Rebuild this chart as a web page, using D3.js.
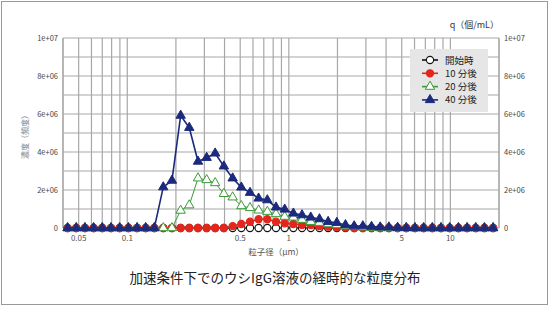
<!DOCTYPE html>
<html>
<head>
<meta charset="utf-8">
<script src="https://cdn.jsdelivr.net/npm/d3@7"></script>
<style>
  body { margin: 0; background: #fff; }
  svg { display: block; font-family: "Noto Sans CJK JP", "Noto Sans", sans-serif; }
</style>
</head>
<body>
<svg width="550" height="310"></svg>
<script>
// particle size bins (µm)
const sizes = [0.0427, 0.0483, 0.0547, 0.0619, 0.0700, 0.0793, 0.0897, 0.1016, 0.115, 0.130,
  0.147, 0.167, 0.189, 0.214, 0.242, 0.274, 0.310, 0.350, 0.396, 0.449,
  0.508, 0.575, 0.650, 0.736, 0.833, 0.943, 1.067, 1.207, 1.367, 1.547,
  1.751, 1.982, 2.242, 2.538, 2.872, 3.251, 3.680, 4.164, 4.713, 5.333,
  6.037, 6.832, 7.731, 8.751, 9.904, 11.21, 12.69, 14.36, 16.25, 18.39];

const start = [0, 0, 0, 0, 0, 0, 0, 0, 0, 0,
  0, 0, 0, 0, 0, 0, 0, 0, 0, 0,
  0, 0, 0, 0, 0, 0, 0, 0, 0, 0,
  0, 0, 0, 0, 0, 0, 0, 0, 0, 0,
  0, 0, 0, 0, 0, 0, 0, 0, 0, 0];

const min10 = [0, 0, 0, 0, 0, 0, 0, 0, 0, 0,
  0, 0, 0, 0, 0, 0, 0, 0, 0, 0.1e6,
  0.21e6, 0.33e6, 0.46e6, 0.46e6, 0.33e6, 0.25e6, 0.21e6, 0.16e6, 0.15e6, 0.1e6,
  0.07e6, 0.04e6, 0.02e6, 0, 0, 0, 0, 0, 0, 0,
  0, 0, 0, 0, 0, 0, 0, 0, 0, 0];

const min20 = [0, 0, 0, 0, 0, 0, 0, 0, 0, 0,
  0, 0, 0, 0.92e6, 1.2e6, 2.62e6, 2.53e6, 2.37e6, 1.8e6, 1.62e6,
  1.16e6, 1.06e6, 0.93e6, 0.86e6, 0.74e6, 0.6e6, 0.56e6, 0.44e6, 0.33e6, 0.28e6,
  0.21e6, 0.16e6, 0.1e6, 0.06e6, 0.04e6, 0.02e6, 0, 0, 0, 0,
  0, 0, 0, 0, 0, 0, 0, 0, 0, 0];

const min40 = [0, 0, 0, 0, 0, 0, 0, 0, 0, 0,
  0, 2.15e6, 2.5e6, 5.92e6, 5.28e6, 3.5e6, 3.7e6, 3.93e6, 3.25e6, 2.62e6,
  2.14e6, 1.86e6, 1.56e6, 1.47e6, 1.09e6, 0.98e6, 0.77e6, 0.68e6, 0.56e6, 0.47e6,
  0.33e6, 0.28e6, 0.16e6, 0.1e6, 0.1e6, 0.07e6, 0.04e6, 0.04e6, 0.02e6, 0.01e6,
  0, 0, 0, 0, 0, 0, 0, 0, 0, 0];

const seriesNames = ["開始時", "10 分後", "20 分後", "40 分後"];
const xTickLabels = [0.05, 0.1, 0.5, 1, 5, 10];
const yTickLabels = [0, 2e6, 4e6, 6e6, 8e6, 1e7];

const series = [
  { name: seriesNames[0], values: start, color: "#111", fill: "#fff", shape: "circle", lw: 1 },
  { name: seriesNames[1], values: min10, color: "#e3261c", fill: "#e3261c", shape: "circle", lw: 1.5 },
  { name: seriesNames[2], values: min20, color: "#3a9a36", fill: "#fff", shape: "triangle", lw: 1 },
  { name: seriesNames[3], values: min40, color: "#1b2a7c", fill: "#1b2a7c", shape: "triangle", lw: 1.6 }
];

const svg = d3.select("svg");
const pLeft = 63, pRight = 499, pTop = 38, pBottom = 228;

const x = d3.scaleLog().domain([0.04, 20]).range([pLeft, pRight]);
const y = d3.scaleLinear().domain([0, 1e7]).range([pBottom, pTop]);

// outer frame
svg.append("rect")
  .attr("x", 1.5).attr("y", 1.5).attr("width", 546).attr("height", 303)
  .attr("fill", "none").attr("stroke", "#999").attr("stroke-width", 1);

// grid
const grid = svg.append("g");
grid.selectAll(".vg").data(x.ticks()).join("line")
  .attr("x1", d => x(d)).attr("x2", d => x(d))
  .attr("y1", pTop).attr("y2", pBottom)
  .attr("stroke", "#a8a8a8").attr("stroke-width", 1.2);
grid.selectAll(".hg").data(d3.range(0, 1e7 + 1, 1e6)).join("line")
  .attr("x1", pLeft).attr("x2", pRight)
  .attr("y1", d => y(d)).attr("y2", d => y(d))
  .attr("stroke", "#a8a8a8").attr("stroke-width", 1.2);
grid.append("line").attr("x1", pLeft).attr("x2", pLeft).attr("y1", pTop).attr("y2", pBottom)
  .attr("stroke", "#a8a8a8").attr("stroke-width", 1.2);
grid.append("line").attr("x1", pRight).attr("x2", pRight).attr("y1", pTop).attr("y2", pBottom)
  .attr("stroke", "#a8a8a8").attr("stroke-width", 1.2);

const fmt = v => v === 0 ? "0" : v.toExponential().replace(/e\+(\d)$/, "e+0$1");

svg.append("g").selectAll("text").data(yTickLabels).join("text")
  .attr("x", pLeft - 5).attr("y", d => y(d) + 3)
  .attr("text-anchor", "end").attr("font-size", 7.5).attr("fill", "#444")
  .text(fmt);
svg.append("g").selectAll("text").data(yTickLabels).join("text")
  .attr("x", pRight + 5).attr("y", d => y(d) + 3)
  .attr("text-anchor", "start").attr("font-size", 7.5).attr("fill", "#444")
  .text(fmt);

svg.append("g").selectAll("text").data(xTickLabels).join("text")
  .attr("x", d => x(d)).attr("y", pBottom + 13)
  .attr("text-anchor", "middle").attr("font-size", 8).attr("fill", "#555")
  .text(d => d);

// axis titles
svg.append("text")
  .attr("transform", `translate(28,${(pTop + pBottom) / 2 + 2}) rotate(-90)`)
  .attr("text-anchor", "middle").attr("font-size", 8).attr("fill", "#888")
  .text("濃度（頻度）");
svg.append("text")
  .attr("x", 276).attr("y", pBottom + 27)
  .attr("text-anchor", "middle").attr("font-size", 8.5).attr("fill", "#555")
  .text("粒子径（μm）");
svg.append("text")
  .attr("x", pRight).attr("y", 28)
  .attr("text-anchor", "end").attr("font-size", 9).attr("fill", "#333")
  .text("q（個/mL）");

svg.append("text")
  .attr("x", 275).attr("y", 283)
  .attr("text-anchor", "middle").attr("font-size", 13.5).attr("fill", "#222")
  .text("加速条件下でのウシIgG溶液の経時的な粒度分布");

// series
const line = d3.line().x(d => x(d[0])).y(d => y(d[1]));
const triangle = d3.symbol(d3.symbolTriangle).size(38);

function marker(sel, s) {
  if (s.shape === "circle") {
    sel.append("circle").attr("r", 3.6)
      .attr("fill", s.fill).attr("stroke", s.color).attr("stroke-width", 1.1);
  } else {
    sel.append("path").attr("d", triangle)
      .attr("fill", s.fill).attr("stroke", s.color).attr("stroke-width", 1);
  }
}

series.forEach(s => {
  const pts = sizes.map((v, i) => [v, s.values[i]]);
  const g = svg.append("g");
  g.append("path").datum(pts).attr("d", line)
    .attr("fill", "none").attr("stroke", s.color).attr("stroke-width", s.lw);
  g.selectAll("g").data(pts).join("g")
    .attr("transform", d => `translate(${x(d[0])},${y(d[1])})`)
    .each(function () { marker(d3.select(this), s); });
});

// legend
const lg = svg.append("g").attr("transform", "translate(410,49)");
lg.append("rect").attr("width", 78).attr("height", 63).attr("fill", "#e6e6e6");
series.forEach((s, i) => {
  const row = lg.append("g").attr("transform", `translate(0,${11 + i * 13.3})`);
  row.append("line").attr("x1", 12).attr("x2", 28)
    .attr("stroke", s.color).attr("stroke-width", 1.6);
  marker(row.append("g").attr("transform", "translate(20,0)"), s);
  row.append("text").attr("x", 35).attr("y", 3.5)
    .attr("font-size", 9.5).attr("fill", "#222").text(s.name);
});
</script>
</body>
</html>
